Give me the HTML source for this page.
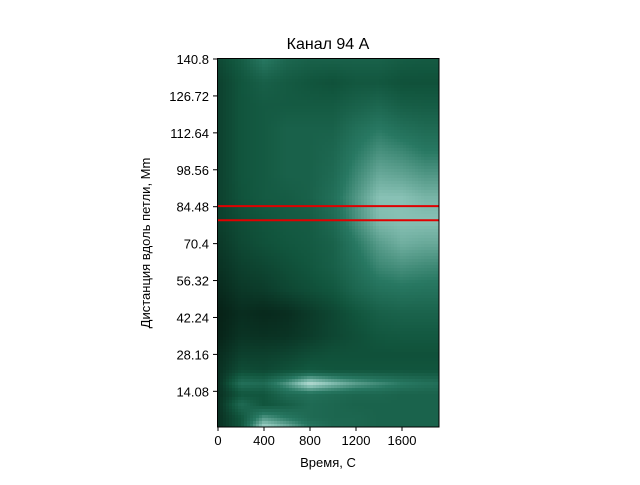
<!DOCTYPE html>
<html><head><meta charset="utf-8"><style>
body{margin:0;background:#fff}
text{font-family:"Liberation Sans","DejaVu Sans",sans-serif;fill:#000}
</style></head><body>
<svg id="chart" width="640" height="480" xmlns="http://www.w3.org/2000/svg">
<defs>
<clipPath id="clip"><rect x="217.5" y="58.5" width="221.5" height="368.5"/></clipPath>
</defs>
<g clip-path="url(#clip)"><g id="cells" shape-rendering="crispEdges"></g></g>
<g id="lines"></g>
<rect x="217.5" y="58.5" width="221.5" height="368.5" fill="none" stroke="#000" stroke-width="1"/>
<g id="axes"></g>
<text x="328" y="49" font-size="16" text-anchor="middle">Канал 94 A</text>
<text x="328" y="467" font-size="13" text-anchor="middle">Время, С</text>
<text transform="translate(150,243) rotate(-90)" font-size="13" text-anchor="middle">Дистанция вдоль петли, Mm</text>
</svg>
<script>
const timeCols=[0,200,400,600,800,1000,1200,1400,1600,1800,1920];
const distRows=[140.8,131.9,123.1,114.3,105.6,96.8,88.0,79.2,70.4,61.6,52.8,44.0,35.2,28,22,17,13,9,4,0];
const intensity=[
[0.24,0.34,0.5,0.4,0.37,0.37,0.37,0.37,0.34,0.33,0.33],
[0.2,0.3,0.36,0.33,0.3,0.28,0.31,0.31,0.28,0.28,0.28],
[0.2,0.3,0.33,0.33,0.33,0.33,0.37,0.4,0.35,0.34,0.34],
[0.2,0.3,0.33,0.37,0.37,0.37,0.45,0.5,0.45,0.42,0.42],
[0.2,0.3,0.33,0.37,0.37,0.4,0.5,0.58,0.55,0.5,0.5],
[0.2,0.3,0.33,0.37,0.37,0.42,0.55,0.66,0.64,0.6,0.6],
[0.2,0.29,0.33,0.34,0.37,0.45,0.6,0.74,0.74,0.7,0.7],
[0.19,0.26,0.3,0.33,0.34,0.42,0.58,0.72,0.74,0.74,0.74],
[0.16,0.24,0.28,0.31,0.33,0.37,0.5,0.62,0.68,0.66,0.66],
[0.13,0.2,0.23,0.27,0.31,0.36,0.45,0.55,0.58,0.56,0.55],
[0.09,0.16,0.18,0.23,0.27,0.31,0.4,0.46,0.48,0.47,0.47],
[0.05,0.11,0.09,0.11,0.17,0.23,0.3,0.36,0.38,0.38,0.38],
[0.06,0.14,0.13,0.14,0.18,0.23,0.27,0.31,0.32,0.32,0.32],
[0.1,0.2,0.2,0.22,0.26,0.28,0.28,0.28,0.28,0.28,0.28],
[0.12,0.26,0.24,0.28,0.32,0.3,0.3,0.3,0.3,0.3,0.3],
[0.12,0.45,0.42,0.6,0.85,0.72,0.62,0.56,0.5,0.46,0.45],
[0.12,0.3,0.3,0.42,0.45,0.42,0.4,0.4,0.38,0.38,0.38],
[0.12,0.42,0.3,0.35,0.42,0.4,0.38,0.38,0.38,0.38,0.38],
[0.12,0.3,0.6,0.5,0.42,0.4,0.4,0.38,0.38,0.38,0.38],
[0.12,0.3,0.85,0.7,0.5,0.42,0.4,0.38,0.38,0.38,0.38]];
const markedDistances=[84.7,79.3];
const xTicks=[0,400,800,1200,1600];
const yTicks=[14.08,28.16,42.24,56.32,70.4,84.48,98.56,112.64,126.72,140.8];
const NS="http://www.w3.org/2000/svg";
const X0=218,XS=0.115,Y0=59,YS=2.6225;
const xs=v=>X0+v*XS, ys=v=>Y0+(140.8-v)*YS;
const stops=[[0,[4,22,14]],[0.3,[17,85,61]],[0.5,[40,120,98]],[0.75,[140,196,184]],[1,[235,247,244]]];
function cmap(t){for(let i=1;i<stops.length;i++){if(t<=stops[i][0]){const a=stops[i-1],b=stops[i],f=(t-a[0])/(b[0]-a[0]);return `rgb(${a[1].map((c,k)=>Math.round(c+(b[1][k]-c)*f)).join(',')})`;}}return 'rgb(235,247,244)';}
function seg(arr,v,desc){for(let i=0;i<arr.length-1;i++){const a=arr[i],b=arr[i+1];if(desc?(v<=a&&v>=b):(v>=a&&v<=b))return [i,(v-a)/(b-a)];}return desc?(v>arr[0]?[0,0]:[arr.length-2,1]):(v<arr[0]?[0,0]:[arr.length-2,1]);}
function sample(t,d){const [c,fx]=seg(timeCols,t,false),[r,fy]=seg(distRows,d,true);
 const a=intensity[r][c],b=intensity[r][c+1],p=intensity[r+1][c],q=intensity[r+1][c+1];
 return (a*(1-fx)+b*fx)*(1-fy)+(p*(1-fx)+q*fx)*fy;}
const cells=document.getElementById('cells');
const P=3;
for(let py=58;py<428;py+=P){for(let px=217;px<440;px+=P){
 const t=(px+P/2-X0)/XS,d=140.8-(py+P/2-Y0)/YS;
 const el=document.createElementNS(NS,'rect');
 el.setAttribute('x',px);el.setAttribute('y',py);el.setAttribute('width',P);el.setAttribute('height',P);
 el.setAttribute('fill',cmap(sample(t,d)));
 
 
 cells.appendChild(el);
}}
const lines=document.getElementById('lines');
markedDistances.forEach(d=>{
 const l=document.createElementNS(NS,'line');
 l.setAttribute('x1',217.5);l.setAttribute('x2',439);
 l.setAttribute('y1',ys(d));l.setAttribute('y2',ys(d));
 l.setAttribute('stroke','#e00000');l.setAttribute('stroke-width','2');
 
 
 lines.appendChild(l);
});
const axes=document.getElementById('axes');
xTicks.forEach(t=>{
 const x=xs(t);
 const l=document.createElementNS(NS,'line');
 l.setAttribute('x1',x);l.setAttribute('x2',x);l.setAttribute('y1',427);l.setAttribute('y2',431);l.setAttribute('stroke','#000');
 
 
 axes.appendChild(l);
 const tx=document.createElementNS(NS,'text');
 tx.setAttribute('x',x);tx.setAttribute('y',445);tx.setAttribute('font-size','13');tx.setAttribute('text-anchor','middle');
 tx.textContent=t;
 
 
 axes.appendChild(tx);
});
yTicks.forEach(t=>{
 const y=ys(t);
 const l=document.createElementNS(NS,'line');
 l.setAttribute('x1',213);l.setAttribute('x2',217.5);l.setAttribute('y1',y);l.setAttribute('y2',y);l.setAttribute('stroke','#000');
 
 
 axes.appendChild(l);
 const tx=document.createElementNS(NS,'text');
 tx.setAttribute('x',209);tx.setAttribute('y',y+5);tx.setAttribute('font-size','13');tx.setAttribute('text-anchor','end');
 tx.textContent=t;
 
 
 axes.appendChild(tx);
});
</script>
</body></html>
